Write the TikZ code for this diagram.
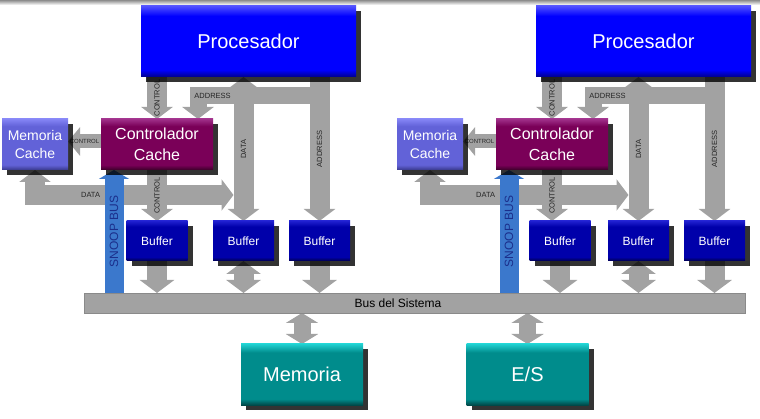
\documentclass[tikz,border=0pt]{standalone}
\usepackage{fontspec}
\setmainfont{Liberation Sans}
\usetikzlibrary{arrows.meta, shadows, backgrounds, calc}

\definecolor{arrowgray}{HTML}{A2A2A2}
\definecolor{busedge}{HTML}{8A8A8A}
\definecolor{snoopblue}{HTML}{3B78CC}
\definecolor{snooptext}{HTML}{1B2F8C}
\definecolor{proctop}{HTML}{5050FF}
\definecolor{procmid}{HTML}{0000FF}
\definecolor{procbot}{HTML}{00008A}
\definecolor{mctop}{HTML}{8585F5}
\definecolor{mcmid}{HTML}{6262D8}
\definecolor{mcbot}{HTML}{38388A}
\definecolor{ctrltop}{HTML}{A0308A}
\definecolor{ctrlmid}{HTML}{7A0058}
\definecolor{ctrlbot}{HTML}{3A0028}
\definecolor{buftop}{HTML}{2020D0}
\definecolor{bufmid}{HTML}{0000AA}
\definecolor{bufbot}{HTML}{00004A}
\definecolor{memtop}{HTML}{20D0D0}
\definecolor{memmid}{HTML}{008C8C}
\definecolor{membot}{HTML}{004848}

\colorlet{bevtop}{white}
\colorlet{bevmid}{gray}
\colorlet{bevbot}{black}
\pgfdeclareverticalshading[bevtop,bevmid,bevbot]{bevel}{100bp}{color(0bp)=(bevbot); color(25bp)=(bevbot); color(30bp)=(bevmid); color(68bp)=(bevmid); color(75bp)=(bevtop); color(100bp)=(bevtop)}

\tikzset{
  bevelfill/.style n args={3}{/utils/exec={\colorlet{bevtop}{#1}\colorlet{bevmid}{#2}\colorlet{bevbot}{#3}}, shade, shading=bevel},
  box/.style={drop shadow={shadow xshift=5pt, shadow yshift=-5pt, opacity=.8, fill=black}, text=white, align=center, inner sep=0pt, outer sep=0pt},
  procbox/.style={box, bevelfill={proctop}{procmid}{procbot}, minimum width=215pt, minimum height=71pt, font=\fontsize{20}{24}\selectfont},
  mcbox/.style={box, bevelfill={mctop}{mcmid}{mcbot}, minimum width=66pt, minimum height=51pt, font=\fontsize{14}{18}\selectfont},
  ctrlbox/.style={box, bevelfill={ctrltop}{ctrlmid}{ctrlbot}, minimum width=112pt, minimum height=51pt, font=\fontsize{16}{21}\selectfont},
  bufbox/.style={box, bevelfill={buftop}{bufmid}{bufbot}, minimum width=61pt, minimum height=40pt, font=\fontsize{12}{14}\selectfont},
  membox/.style={box, bevelfill={memtop}{memmid}{membot}, minimum width=122pt, minimum height=61pt, font=\fontsize{20}{24}\selectfont},
  busbox/.style={fill=arrowgray, draw=busedge, line width=.8pt, inner sep=0pt, outer sep=0pt},
  tag/.style={inner sep=0pt, text=black!85, font=\fontsize{7.5}{8}\selectfont},
  fat/.style={draw=arrowgray, line width=20pt, >={Triangle[length=12pt, width=31pt]}},
  fatarm/.style={draw=arrowgray, line width=17pt, >={Triangle[length=12pt, width=31pt]}},
  fatthin/.style={draw=arrowgray, line width=14pt, >={Triangle[length=12pt, width=28pt]}},
  fatshort/.style={draw=arrowgray, line width=20pt, >={Triangle[length=13pt, width=34pt]}},
  fatmem/.style={draw=arrowgray, line width=17pt, >={Triangle[length=10pt, width=32pt]}},
  snoop/.style={draw=snoopblue, line width=19pt, >={Triangle[length=9pt, width=30pt]}}
}

\begin{document}
\begin{tikzpicture}[x=1pt, y=-1pt]
    \useasboundingbox (0,0) rectangle (760,419);
    % top edge
    \shade[top color=black!45, bottom color=white] (0,0) rectangle (760,5);

    % system bus, memory and I/O
    \node[busbox, minimum width=661pt, minimum height=20pt] (bus) at (414.5,303) {};
    \node[inner sep=0pt, font=\fontsize{12}{14}\selectfont] (buslbl) at (398,303) {Bus del Sistema};
    \node[membox] (mem) at (302,374.5) {Memoria};
    \node[membox] (es) at (527.5,374.5) {E/S};

    % the two processors
    \foreach \s/\dx/\db in {L/0/0, R/395/8} {
        \begin{scope}[xshift=\dx pt]
            \node[procbox] (\s-proc) at (248.5,41.5) {Procesador};
            \node[mcbox] (\s-mc) at (35,144.5) {Memoria\\Cache};
            \node[ctrlbox] (\s-ctrl) at (157,144.5) {Controlador\\Cache};
            \node[bufbox] (\s-buf1) at (157+\db,241) {Buffer};
            \node[bufbox] (\s-buf2) at (243.5,241) {Buffer};
            \node[bufbox] (\s-buf3) at (319.5,241) {Buffer};
        \end{scope}
        \coordinate (\s-snp) at ($(\s-ctrl.south west)+(13,0)$);

        \begin{scope}[on background layer]
            % data to cache memory
            \draw[fat, <->] (\s-mc.south) |- node[tag, pos=0.64] {DATA} ($(\s-buf2.north)+(-10,-26)$);
            % control lines
            \draw[fat, ->] (\s-proc.south -| \s-ctrl.north) -- node[tag, rotate=90] {CONTROL} (\s-ctrl.north);
            \draw[fat, ->] (\s-ctrl.south) -- node[tag, rotate=90] {CONTROL} (\s-ctrl.south |- \s-buf1.north);
            \draw[fatthin, ->] ($(\s-ctrl.west)+(0,-3)$) -- node[tag, font=\fontsize{6}{7}\selectfont] {CONTROL} ($(\s-mc.east)+(0,-3)$);
            % address lines
            \draw[fatarm, ->] ($(\s-proc.south -| \s-buf3.north)+(0,19)$) -| node[tag, pos=0.44] {ADDRESS} ($(\s-ctrl.north east)+(-15,0)$);
            \draw[fat, ->] (\s-proc.south -| \s-buf3.north) -- node[tag, rotate=90] {ADDRESS} (\s-buf3.north);
            % data bus
            \draw[fat, <->] (\s-proc.south -| \s-buf2.north) -- node[tag, rotate=90] {DATA} (\s-buf2.north);
            % snoop bus
            \draw[snoop, ->] (bus.north -| \s-snp) -- node[rotate=90, inner sep=0pt, text=snooptext, font=\fontsize{12}{14}\selectfont] {SNOOP BUS} (\s-snp);
            % buffers to bus
            \draw[fatshort, ->] (\s-buf1.south) -- (bus.north -| \s-buf1.south);
            \draw[fatshort, <->] (\s-buf2.south) -- (bus.north -| \s-buf2.south);
            \draw[fatshort, ->] (\s-buf3.south) -- (bus.north -| \s-buf3.south);
        \end{scope}
    }

    % bus to memory and I/O
    \begin{scope}[on background layer]
        \draw[fatmem, <->] (mem.north) -- (bus.south -| mem.north);
        \draw[fatmem, <->] (es.north) -- (bus.south -| es.north);
    \end{scope}
\end{tikzpicture}
\end{document}
